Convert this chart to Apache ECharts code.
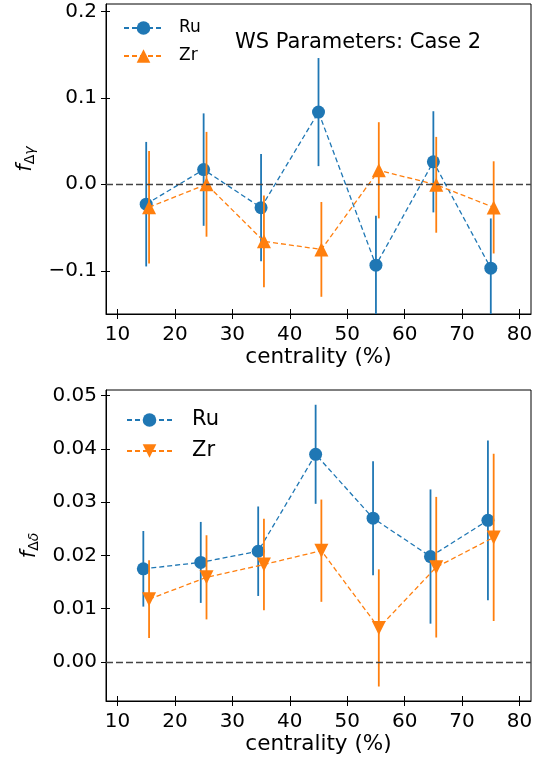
<!DOCTYPE html>
<html>
<head>
<meta charset="utf-8">
<script src="https://cdn.jsdelivr.net/npm/echarts@6/dist/echarts.min.js"></script>
<style>
html,body{margin:0;padding:0;background:#fff;}
#chart{width:549px;height:767px;}
</style>
</head>
<body>
<div id="chart"></div>
<script>
// ---- data ----
const xTicks = [10, 20, 30, 40, 50, 60, 70, 80];
const gammaTicks = [-0.1, 0.0, 0.1, 0.2];
const deltaTicks = [0.00, 0.01, 0.02, 0.03, 0.04, 0.05];

const ruXTop = [15, 25, 35, 45, 55, 65, 75];
const zrXTop = [15.5, 25.5, 35.5, 45.5, 55.5, 65.5, 75.5];
const ruGamma = [-0.023, 0.017, -0.027, 0.0835, -0.0935, 0.026, -0.097];
const ruGammaErr = [0.072, 0.065, 0.062, 0.0625, 0.057, 0.0585, 0.0575];
const zrGamma = [-0.0265, 0.0, -0.066, -0.0753, 0.0162, -0.0006, -0.0267];
const zrGammaErr = [0.065, 0.0606, 0.053, 0.0548, 0.0556, 0.0554, 0.0533];

const ruXBot = [14.5, 24.5, 34.5, 44.5, 54.5, 64.5, 74.5];
const zrXBot = [15.5, 25.5, 35.5, 45.5, 55.5, 65.5, 75.5];
const ruDelta = [0.0175, 0.0187, 0.0208, 0.0390, 0.0270, 0.0198, 0.0266];
const ruDeltaErr = [0.0071, 0.0076, 0.0084, 0.0093, 0.0107, 0.0126, 0.0150];
const zrDelta = [0.0118, 0.0159, 0.0183, 0.0209, 0.0064, 0.0178, 0.0234];
const zrDeltaErr = [0.0073, 0.0079, 0.0086, 0.0096, 0.0110, 0.0132, 0.0157];

// ---- styling ----
const FONT = 'DejaVu Sans';
const BLUE = '#1f77b4';
const ORANGE = '#ff7f0e';

function pairs(xs, ys) { return xs.map((x, i) => [x, ys[i]]); }
function triples(xs, ys, es) { return xs.map((x, i) => [x, ys[i], es[i]]); }

function errSeries(name, xi, yi, xs, ys, es, color, z) {
  return {
    type: 'custom', name: name, xAxisIndex: xi, yAxisIndex: yi, z: z, clip: true,
    silent: true,
    data: triples(xs, ys, es),
    encode: { x: 0, y: 1 },
    renderItem: function (params, api) {
      const x = api.value(0), y = api.value(1), e = api.value(2);
      const p1 = api.coord([x, y - e]);
      const p2 = api.coord([x, y + e]);
      return { type: 'line', shape: { x1: p1[0], y1: p1[1], x2: p2[0], y2: p2[1] },
        style: { stroke: color, lineWidth: 1.8 } };
    }
  };
}

function lineSeries(name, xi, yi, xs, ys, color, symbol, rot, z, zeroLine) {
  const s = {
    type: 'line', name: name, xAxisIndex: xi, yAxisIndex: yi, z: z,
    data: pairs(xs, ys),
    symbol: symbol, symbolSize: symbol === 'circle' ? 13 : 14, symbolRotate: rot,
    showAllSymbol: true,
    itemStyle: { color: color, opacity: 1 },
    lineStyle: { color: color, width: 1.3, type: [5, 3] },
    emphasis: { disabled: true },
    animation: false
  };
  if (zeroLine) {
    s.markLine = {
      silent: true, symbol: 'none', label: { show: false },
      lineStyle: { color: '#444', width: 1.3, type: [7, 3] },
      data: [{ yAxis: 0 }], animation: false
    };
  }
  return s;
}

function xAxes(gridIndex) {
  const base = {
    type: 'value', gridIndex: gridIndex, min: 8, max: 82, position: 'bottom',
    splitLine: { show: false }
  };
  return [
    Object.assign({}, base, {
      name: 'centrality (%)', nameLocation: 'middle', nameGap: 32,
      nameTextStyle: { fontFamily: FONT, fontSize: 21.5, color: '#000' },
      axisLine: { show: true, onZero: false, lineStyle: { color: '#000', width: 1 } },
      axisTick: { show: true, length: 5, lineStyle: { color: '#000', width: 1 }, customValues: xTicks },
      axisLabel: { fontFamily: FONT, fontSize: 20, color: '#000', margin: 11, customValues: xTicks }
    }),
    Object.assign({}, base, {
      axisLine: { show: false, onZero: false },
      axisTick: { show: true, inside: true, length: 5, lineStyle: { color: '#000', width: 1 }, customValues: xTicks },
      axisLabel: { show: false }
    })
  ];
}

function yAxes(gridIndex, min, max, ticks, fmt, nameRich, nameGap) {
  const base = {
    type: 'value', gridIndex: gridIndex, min: min, max: max, position: 'left',
    splitLine: { show: false }
  };
  return [
    Object.assign({}, base, {
      name: nameRich, nameLocation: 'middle', nameGap: nameGap, nameRotate: 90,
      nameTextStyle: {
        color: '#000',
        rich: {
          f: { fontFamily: FONT, fontStyle: 'italic', fontSize: 21, color: '#000', lineHeight: 24 },
          d: { fontFamily: FONT, fontSize: 14, color: '#000', verticalAlign: 'bottom', lineHeight: 14 },
          g: { fontFamily: FONT, fontStyle: 'italic', fontSize: 14, color: '#000', verticalAlign: 'bottom', lineHeight: 14 }
        }
      },
      axisLine: { show: true, onZero: false, lineStyle: { color: '#000', width: 1 } },
      axisTick: { show: true, length: 5, lineStyle: { color: '#000', width: 1 }, customValues: ticks },
      axisLabel: { fontFamily: FONT, fontSize: 20, color: '#000', margin: 9, customValues: ticks, formatter: fmt }
    }),
    Object.assign({}, base, {
      axisLine: { show: false, onZero: false },
      axisTick: { show: true, inside: true, length: 4, lineStyle: { color: '#000', width: 1 }, customValues: ticks },
      axisLabel: { show: false }
    })
  ];
}

const fmtGamma = v => (v < -1e-9 ? '\u2212' : '') + Math.abs(v).toFixed(1);
const fmtDelta = v => (v < -1e-9 ? '\u2212' : '') + Math.abs(v).toFixed(2);

const chart = echarts.init(document.getElementById('chart'), null, { renderer: 'canvas' });

const option = {
  animation: false,
  backgroundColor: '#fff',
  title: {
    text: 'WS Parameters: Case 2', left: 230, top: 27,
    textStyle: { fontFamily: FONT, fontSize: 21, fontWeight: 'normal', color: '#000' }
  },
  grid: [
    { left: 106, right: 18, top: 4, height: 310, show: true, borderColor: '#000', borderWidth: 1, backgroundColor: 'transparent' },
    { left: 106, right: 18, top: 390, height: 311, show: true, borderColor: '#000', borderWidth: 1, backgroundColor: 'transparent' }
  ],
  legend: [
    {
      orient: 'vertical', left: 123, top: 18, padding: 0, itemGap: 8,
      itemWidth: 39, itemHeight: 17,
      data: ['Ru ', 'Zr '],
      formatter: n => n.trim(),
      textStyle: { fontFamily: FONT, fontSize: 17, color: '#000', lineHeight: 20, padding: [0, 0, 0, 11] },
      selectedMode: false
    },
    {
      orient: 'vertical', left: 126, top: 408, padding: 0, itemGap: 7,
      itemWidth: 45, itemHeight: 17,
      data: ['Ru', 'Zr'],
      textStyle: { fontFamily: FONT, fontSize: 21, color: '#000', lineHeight: 24, padding: [0, 0, 0, 15] },
      selectedMode: false
    }
  ],
  xAxis: [].concat(xAxes(0), xAxes(1)),
  yAxis: [].concat(
    yAxes(0, -0.15, 0.2085, gammaTicks, fmtGamma, '{f|f}{d|Δ}{g|γ}', 65),
    yAxes(1, -0.00732, 0.05107, deltaTicks, fmtDelta, '{f|f}{d|Δ}{g|δ}', 60)
  ),
  series: [
    errSeries('ruGammaErr', 0, 0, ruXTop, ruGamma, ruGammaErr, BLUE, 1),
    lineSeries('Ru ', 0, 0, ruXTop, ruGamma, BLUE, 'circle', 0, 2, true),
    errSeries('zrGammaErr', 0, 0, zrXTop, zrGamma, zrGammaErr, ORANGE, 3),
    lineSeries('Zr ', 0, 0, zrXTop, zrGamma, ORANGE, 'triangle', 0, 4, false),
    errSeries('ruDeltaErr', 2, 2, ruXBot, ruDelta, ruDeltaErr, BLUE, 1),
    lineSeries('Ru', 2, 2, ruXBot, ruDelta, BLUE, 'circle', 0, 2, true),
    errSeries('zrDeltaErr', 2, 2, zrXBot, zrDelta, zrDeltaErr, ORANGE, 3),
    lineSeries('Zr', 2, 2, zrXBot, zrDelta, ORANGE, 'triangle', 180, 4, false)
  ]
};
chart.setOption(option);
</script>
</body>
</html>
